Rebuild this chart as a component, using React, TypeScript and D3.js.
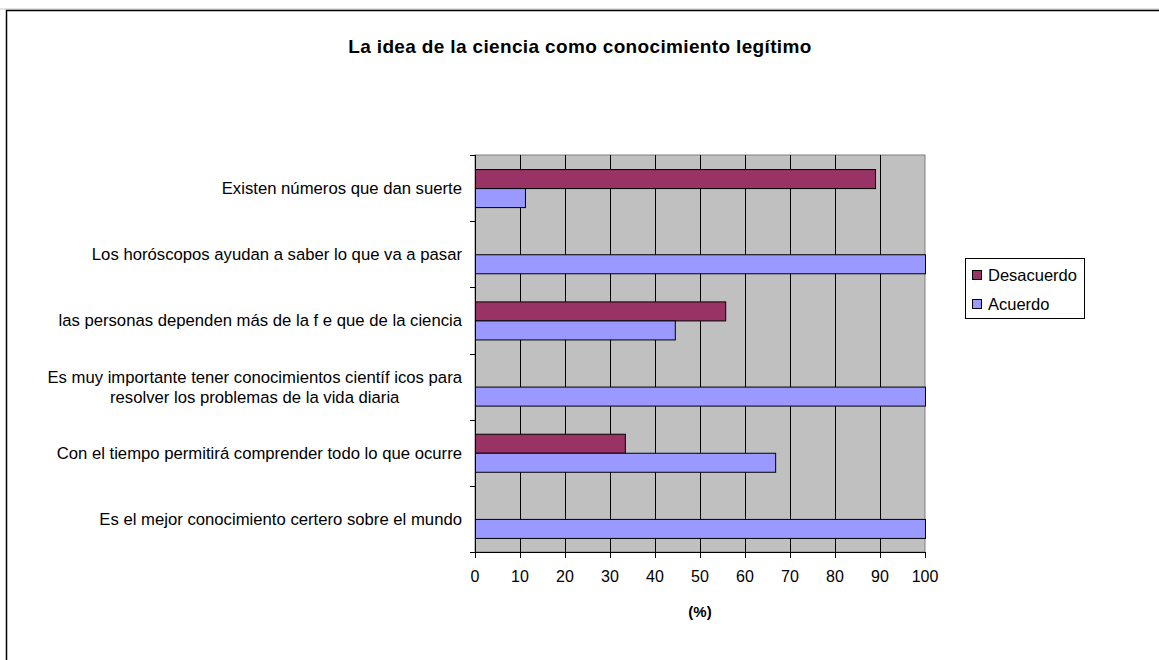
import React, { useLayoutEffect, useRef, useState } from "react";
import * as d3 from "d3";

const categories: string[][] = [
  ["Existen números que dan suerte"],
  ["Los horóscopos ayudan a saber lo que va a pasar"],
  ["las personas dependen más de la f e que de la ciencia"],
  ["Es muy importante tener conocimientos científ icos para", "resolver los problemas de la vida diaria"],
  ["Con el tiempo permitirá comprender todo lo que ocurre"],
  ["Es el mejor conocimiento certero sobre el mundo"],
];
const seriesNames = ["Desacuerdo", "Acuerdo"];
const desacuerdo = [88.9, 0, 55.6, 0, 33.3, 0];
const acuerdo = [11.1, 100, 44.4, 100, 66.7, 100];
const xTicks = [0, 10, 20, 30, 40, 50, 60, 70, 80, 90, 100];
const colors = ["#993366", "#9999FF"];

const W = 1159, H = 660;
const plot = { left: 475, right: 925, top: 155, bottom: 552 };
const font = "Liberation Sans, Arial, sans-serif";
const labelRight = 462;

export default function App() {
  const x = d3.scaleLinear().domain([0, 100]).range([plot.left, plot.right]);
  const y = d3.scaleBand<number>().domain(d3.range(categories.length)).range([plot.top, plot.bottom]).padding(0);
  const inner = d3.scaleBand<number>().domain([0, 1]).range([0, y.bandwidth()]).paddingInner(0).paddingOuter(0.74);
  const series = [desacuerdo, acuerdo];

  const measureRef = useRef<SVGTextElement>(null);
  const [w1, setW1] = useState(412);
  useLayoutEffect(() => {
    if (measureRef.current) setW1(measureRef.current.getComputedTextLength());
  }, []);

  return (
    <svg width={W} height={H} style={{ position: "absolute", left: 0, top: 0 }} fontFamily={font}>
      <rect x={0} y={0} width={W} height={H} fill="#fff" />
      <line x1={0} x2={W} y1={9} y2={9} stroke="#c8c8c8" strokeWidth={1} />
      <rect x={6.5} y={10.5} width={W + 20} height={H + 20} fill="none" stroke="#000" strokeWidth={1.5} />
      <text x={580} y={53} textAnchor="middle" fontSize={19} fontWeight="bold" letterSpacing={0.35}>
        La idea de la ciencia como conocimiento legítimo
      </text>
      {/* plot area */}
      <rect x={plot.left} y={plot.top} width={plot.right - plot.left} height={plot.bottom - plot.top} fill="#C0C0C0" stroke="#808080" strokeWidth={1} />
      {xTicks.slice(1, -1).map((t) => (
        <line key={t} x1={x(t) + 0.5} x2={x(t) + 0.5} y1={plot.top} y2={plot.bottom} stroke="#000" strokeWidth={1} />
      ))}
      {/* bars */}
      {series.map((vals, si) =>
        vals.map((v, ci) =>
          v > 0 ? (
            <rect
              key={`${si}-${ci}`}
              x={x(0) + 0.5}
              y={(y(ci) as number) + (inner(si) as number) + 0.5}
              width={x(v) - x(0)}
              height={inner.bandwidth()}
              fill={colors[si]}
              stroke="#000"
              strokeWidth={1}
            />
          ) : null
        )
      )}
      {/* axes */}
      <line x1={plot.left + 0.5} x2={plot.left + 0.5} y1={plot.top} y2={plot.bottom + 6} stroke="#000" />
      {d3.range(categories.length + 1).map((i) => {
        const yy = Math.round(plot.top + i * y.step()) + 0.5;
        return <line key={i} x1={plot.left - 5} x2={plot.left} y1={yy} y2={yy} stroke="#000" />;
      })}
      <line x1={plot.left - 5} x2={plot.right + 0.5} y1={plot.bottom + 0.5} y2={plot.bottom + 0.5} stroke="#000" />
      {xTicks.map((t) => (
        <g key={t}>
          <line x1={x(t) + 0.5} x2={x(t) + 0.5} y1={plot.bottom} y2={plot.bottom + 6} stroke="#000" />
          <text x={x(t)} y={582} textAnchor="middle" fontSize={16}>{t}</text>
        </g>
      ))}
      <text x={700} y={617} textAnchor="middle" fontSize={15} fontWeight="bold">(%)</text>
      {/* category labels */}
      {categories.map((lines, ci) => {
        const cy = (y(ci) as number) + y.bandwidth() / 2;
        const n = lines.length;
        return lines.map((l, li) => {
          const first = li === 0;
          return (
            <text
              key={`${ci}-${li}`}
              ref={n > 1 && first ? measureRef : undefined}
              x={first ? labelRight : labelRight - w1 / 2}
              y={cy + 6 + (li - (n - 1) / 2) * 20}
              textAnchor={first ? "end" : "middle"}
              fontSize={16.7}
            >
              {l}
            </text>
          );
        });
      })}
      {/* legend */}
      <rect x={965.5} y={258.5} width={119} height={60} fill="#fff" stroke="#000" strokeWidth={1} />
      {seriesNames.map((s, i) => (
        <g key={s}>
          <rect x={972.5} y={270.5 + i * 29} width={9} height={9} fill={colors[i]} stroke="#000" />
          <text x={988} y={280.5 + i * 29} fontSize={16.5}>{s}</text>
        </g>
      ))}
    </svg>
  );
}
